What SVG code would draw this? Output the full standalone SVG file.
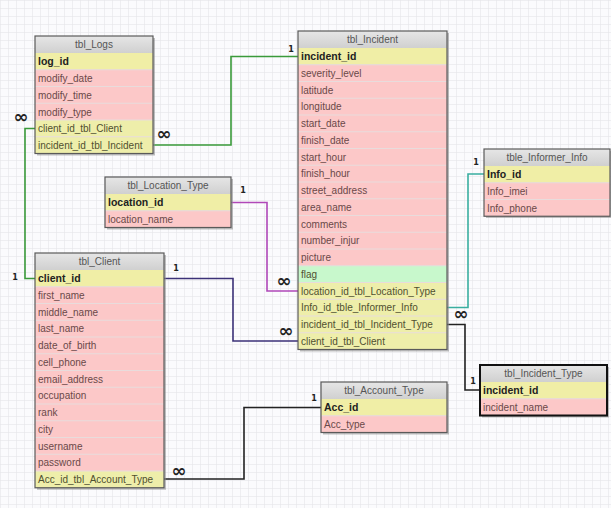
<svg xmlns="http://www.w3.org/2000/svg" width="611" height="508" viewBox="0 0 611 508">
<defs>
<pattern id="grid" width="8" height="8" patternUnits="userSpaceOnUse">
<path d="M8 0H0V8" fill="none" stroke="#e2e2e6" stroke-width="1"/>
</pattern>
<linearGradient id="hdr" x1="0" y1="0" x2="0" y2="1">
<stop offset="0" stop-color="#e6e6e6"/><stop offset="1" stop-color="#d0d0d0"/>
</linearGradient>
</defs>
<style>
.sh{fill:#8a8a8a;opacity:0.55}
.box{fill:none;stroke:#5a5a5a;stroke-width:1.2}
.sel{fill:none;stroke:#111;stroke-width:2}
.hd{fill:url(#hdr)}
.pk{fill:#f0eea6}
.fk{fill:#eeeeaa}
.at{fill:#fcc8c8}
.fl{fill:#c8f8cc}
.sep{stroke:#e8dcdc;stroke-width:1}
.ht{font-family:"Liberation Sans",Arial,sans-serif;font-size:10px;fill:#555;text-anchor:middle}
.kt{font-family:"Liberation Sans",Arial,sans-serif;font-size:10.5px;font-weight:bold;fill:#222}
.rt{font-family:"Liberation Sans",Arial,sans-serif;font-size:10px;fill:#6a4848}
.ft{font-family:"Liberation Sans",Arial,sans-serif;font-size:10px;fill:#505030}
.c{fill:none;stroke-width:1.6}
.one{font-family:"DejaVu Sans",sans-serif;font-size:8px;font-weight:bold;fill:#222;text-anchor:middle}
.inf{font-family:"DejaVu Sans",sans-serif;font-size:18px;font-weight:bold;fill:#222;text-anchor:middle}
</style>
<rect width="611" height="508" fill="#fbfbfd"/>
<rect width="611" height="508" fill="url(#grid)"/>

<g id="connectors">
<path class="c" stroke="#3a9a3a" d="M35,128.5 H25 V278.5 H35"/>
<path class="c" stroke="#3a9a3a" d="M153,145 H231 V56.5 H298"/>
<path class="c" stroke="#b048b8" d="M231,202.5 H267 V291 H298"/>
<path class="c" stroke="#3c3278" d="M164,278.5 H233 V341 H298"/>
<path class="c" stroke="#3aaea0" d="M447,307.5 H468 V174 H484"/>
<path class="c" stroke="#222" d="M447,324.5 H465 V390 H480"/>
<path class="c" stroke="#222" d="M164,479 H244 V407.5 H321"/>
<text class="one" x="291" y="52">1</text>
<text class="one" x="15" y="280">1</text>
<text class="one" x="176" y="271">1</text>
<text class="one" x="243" y="193">1</text>
<text class="one" x="476" y="165">1</text>
<text class="one" x="473" y="384">1</text>
<text class="one" x="314" y="401">1</text>
<text class="inf" x="21" y="123">∞</text>
<text class="inf" x="164" y="140">∞</text>
<text class="inf" x="284" y="287">∞</text>
<text class="inf" x="286" y="337">∞</text>
<text class="inf" x="461" y="320">∞</text>
<text class="inf" x="179" y="477">∞</text>
</g>

<g id="tbl_Logs">
<rect class="sh" x="37" y="38" width="118" height="117.5"/>
<rect class="hd" x="35" y="36" width="118" height="17"/>
<rect class="pk" x="35" y="53" width="118" height="16.75"/>
<rect class="at" x="35" y="69.75" width="118" height="50.25"/>
<rect class="fk" x="35" y="120" width="118" height="33.5"/>
<path class="sep" d="M35,69.75H153M35,86.5H153M35,103.25H153M35,120H153M35,136.75H153"/>
<rect class="box" x="35" y="36" width="118" height="117.5"/>
<text class="ht" x="94" y="48">tbl_Logs</text>
<text class="kt" x="38" y="65">log_id</text>
<text class="rt" x="38" y="82">modify_date</text>
<text class="rt" x="38" y="98.5">modify_time</text>
<text class="rt" x="38" y="115.5">modify_type</text>
<text class="ft" x="38" y="132">client_id_tbl_Client</text>
<text class="ft" x="38" y="149">incident_id_tbl_Incident</text>
</g>

<g id="tbl_Incident">
<rect class="sh" x="300" y="33" width="149" height="318.5"/>
<rect class="hd" x="298" y="31" width="149" height="17"/>
<rect class="pk" x="298" y="48" width="149" height="16.75"/>
<rect class="at" x="298" y="64.75" width="149" height="201"/>
<rect class="fl" x="298" y="265.75" width="149" height="16.75"/>
<rect class="fk" x="298" y="282.5" width="149" height="67"/>
<path class="sep" d="M298,64.75H447M298,81.5H447M298,98.25H447M298,115H447M298,131.75H447M298,148.5H447M298,165.25H447M298,182H447M298,198.75H447M298,215.5H447M298,232.25H447M298,249H447M298,265.75H447M298,282.5H447M298,299.25H447M298,316H447M298,332.75H447"/>
<rect class="box" x="298" y="31" width="149" height="318.5"/>
<text class="ht" x="372.5" y="43">tbl_Incident</text>
<text class="kt" x="301" y="60">incident_id</text>
<text class="rt" x="301" y="76.5">severity_level</text>
<text class="rt" x="301" y="93.5">latitude</text>
<text class="rt" x="301" y="110">longitude</text>
<text class="rt" x="301" y="127">start_date</text>
<text class="rt" x="301" y="143.5">finish_date</text>
<text class="rt" x="301" y="160.5">start_hour</text>
<text class="rt" x="301" y="177">finish_hour</text>
<text class="rt" x="301" y="194">street_address</text>
<text class="rt" x="301" y="210.5">area_name</text>
<text class="rt" x="301" y="227.5">comments</text>
<text class="rt" x="301" y="244">number_injur</text>
<text class="rt" x="301" y="261">picture</text>
<text class="ft" x="301" y="277.5">flag</text>
<text class="ft" x="301" y="294.5">location_id_tbl_Location_Type</text>
<text class="ft" x="301" y="311">Info_id_tble_Informer_Info</text>
<text class="ft" x="301" y="328">incident_id_tbl_Incident_Type</text>
<text class="ft" x="301" y="344.5">client_id_tbl_Client</text>
</g>

<g id="tbl_Location_Type">
<rect class="sh" x="107" y="179" width="126" height="50.5"/>
<rect class="hd" x="105" y="177" width="126" height="17"/>
<rect class="pk" x="105" y="194" width="126" height="16.75"/>
<rect class="at" x="105" y="210.75" width="126" height="16.75"/>
<path class="sep" d="M105,210.75H231"/>
<rect class="box" x="105" y="177" width="126" height="50.5"/>
<text class="ht" x="168" y="189">tbl_Location_Type</text>
<text class="kt" x="108" y="206">location_id</text>
<text class="rt" x="108" y="222.5">location_name</text>
</g>

<g id="tble_Informer_Info">
<rect class="sh" x="486" y="151" width="126" height="67"/>
<rect class="hd" x="484" y="149" width="126" height="17"/>
<rect class="pk" x="484" y="166" width="126" height="16.75"/>
<rect class="at" x="484" y="182.75" width="126" height="33.5"/>
<path class="sep" d="M484,182.75H610M484,199.5H610"/>
<rect class="box" x="484" y="149" width="126" height="67.25"/>
<text class="ht" x="547" y="161">tble_Informer_Info</text>
<text class="kt" x="487" y="178">Info_id</text>
<text class="rt" x="487" y="194.5">Info_imei</text>
<text class="rt" x="487" y="211.5">Info_phone</text>
</g>

<g id="tbl_Client">
<rect class="sh" x="37" y="255" width="129" height="234.75"/>
<rect class="hd" x="35" y="253" width="129" height="17"/>
<rect class="pk" x="35" y="270" width="129" height="16.75"/>
<rect class="at" x="35" y="286.75" width="129" height="184.25"/>
<rect class="fk" x="35" y="471" width="129" height="16.75"/>
<path class="sep" d="M35,286.75H164M35,303.5H164M35,320.25H164M35,337H164M35,353.75H164M35,370.5H164M35,387.25H164M35,404H164M35,420.75H164M35,437.5H164M35,454.25H164M35,471H164"/>
<rect class="box" x="35" y="253" width="129" height="234.75"/>
<text class="ht" x="99.5" y="265">tbl_Client</text>
<text class="kt" x="38" y="282">client_id</text>
<text class="rt" x="38" y="298.5">first_name</text>
<text class="rt" x="38" y="315.5">middle_name</text>
<text class="rt" x="38" y="332">last_name</text>
<text class="rt" x="38" y="349">date_of_birth</text>
<text class="rt" x="38" y="365.5">cell_phone</text>
<text class="rt" x="38" y="382.5">email_address</text>
<text class="rt" x="38" y="399">occupation</text>
<text class="rt" x="38" y="416">rank</text>
<text class="rt" x="38" y="432.5">city</text>
<text class="rt" x="38" y="449.5">username</text>
<text class="rt" x="38" y="466">password</text>
<text class="ft" x="38" y="483">Acc_id_tbl_Account_Type</text>
</g>

<g id="tbl_Account_Type">
<rect class="sh" x="323" y="384" width="126" height="50.5"/>
<rect class="hd" x="321" y="382" width="126" height="17"/>
<rect class="pk" x="321" y="399" width="126" height="16.75"/>
<rect class="at" x="321" y="415.75" width="126" height="16.75"/>
<path class="sep" d="M321,415.75H447"/>
<rect class="box" x="321" y="382" width="126" height="50.5"/>
<text class="ht" x="384" y="394">tbl_Account_Type</text>
<text class="kt" x="324" y="411">Acc_id</text>
<text class="rt" x="324" y="427.5">Acc_type</text>
</g>

<g id="tbl_Incident_Type">
<rect class="sh" x="482" y="367" width="127" height="50.5"/>
<rect class="hd" x="480" y="365" width="127" height="17"/>
<rect class="pk" x="480" y="382" width="127" height="16.75"/>
<rect class="at" x="480" y="398.75" width="127" height="16.75"/>
<path class="sep" d="M480,398.75H607"/>
<rect class="sel" x="480" y="365" width="127" height="50.5"/>
<text class="ht" x="543.5" y="377">tbl_Incident_Type</text>
<text class="kt" x="483" y="394">incident_id</text>
<text class="rt" x="483" y="410.5">incident_name</text>
</g>
</svg>
